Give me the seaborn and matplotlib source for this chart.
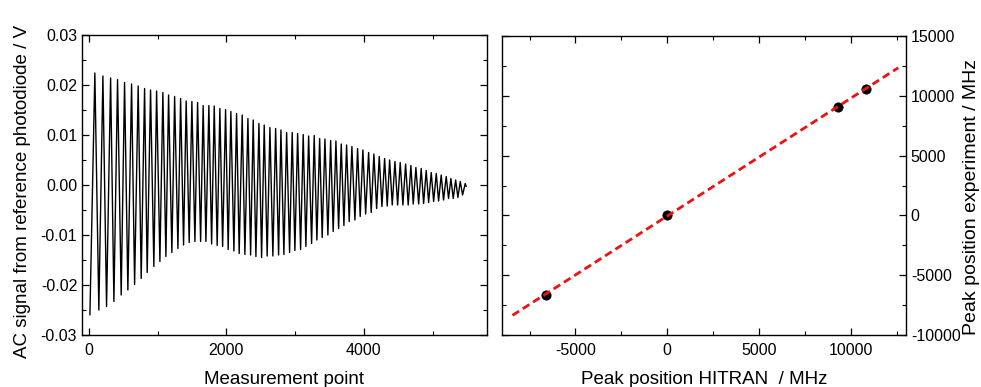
import numpy as np
import pandas as pd
import matplotlib
matplotlib.use("Agg")
import matplotlib.pyplot as plt
import seaborn as sns
from matplotlib.ticker import MultipleLocator, FormatStrFormatter

# ---- Left panel: extrema of the AC signal ----
peak_x = [87, 204, 316, 417, 519, 621, 717, 810, 897, 985, 1076, 1159, 1247, 1334,
          1415, 1498, 1581, 1662, 1745, 1823, 1905, 1988, 2065, 2148, 2230, 2313,
          2390, 2473, 2550, 2633, 2716, 2793, 2876, 2957, 3036, 3117, 3196, 3277,
          3356, 3433, 3516, 3593, 3670, 3748, 3825, 3908, 3985, 4068, 4145, 4223,
          4301, 4374, 4451, 4528, 4606, 4683, 4756, 4833, 4906, 4979, 5052, 5124,
          5197, 5265, 5334, 5401, 5473]
peak_y = [0.0224, 0.0218, 0.0214, 0.0211, 0.0205, 0.0202, 0.0198, 0.0193, 0.0190,
          0.0188, 0.0185, 0.0180, 0.0177, 0.0173, 0.0168, 0.0167, 0.0165, 0.0159,
          0.0159, 0.0158, 0.0153, 0.0151, 0.0147, 0.0143, 0.0140, 0.0133, 0.0130,
          0.0123, 0.0120, 0.0115, 0.0113, 0.0110, 0.0105, 0.0105, 0.0103, 0.0101,
          0.0098, 0.0099, 0.0093, 0.0092, 0.0089, 0.0088, 0.0082, 0.0080, 0.0077,
          0.0073, 0.0070, 0.0065, 0.0062, 0.0057, 0.0053, 0.0050, 0.0047, 0.0045,
          0.0042, 0.0039, 0.0035, 0.0033, 0.0029, 0.0025, 0.0023, 0.0020, 0.0017,
          0.0013, 0.0010, 0.0007, 0.0003]
trough_x = [15, 145, 257, 364, 470, 567, 665, 761, 848, 945, 1033, 1120, 1207, 1295,
            1377, 1459, 1542, 1625, 1702, 1785, 1866, 1945, 2026, 2109, 2186, 2269,
            2352, 2429, 2512, 2593, 2676, 2759, 2836, 2919, 2996, 3079, 3156, 3239,
            3316, 3393, 3476, 3553, 3632, 3709, 3786, 3869, 3946, 4025, 4106, 4185,
            4262, 4339, 4412, 4490, 4567, 4644, 4717, 4796, 4868, 4941, 5014, 5086,
            5158, 5231, 5299, 5367, 5435, 5488]
trough_y = [-0.0260, -0.0250, -0.0243, -0.0233, -0.0220, -0.0210, -0.0199, -0.0187,
            -0.0175, -0.0163, -0.0153, -0.0143, -0.0135, -0.0127, -0.0120, -0.0115,
            -0.0113, -0.0113, -0.0113, -0.0118, -0.0121, -0.0123, -0.0129, -0.0132,
            -0.0137, -0.0139, -0.0140, -0.0143, -0.0145, -0.0142, -0.0142, -0.0140,
            -0.0139, -0.0135, -0.0131, -0.0129, -0.0123, -0.0117, -0.0110, -0.0105,
            -0.0100, -0.0093, -0.0087, -0.0081, -0.0073, -0.0070, -0.0063, -0.0058,
            -0.0055, -0.0047, -0.0043, -0.0042, -0.0040, -0.0040, -0.0040, -0.0040,
            -0.0038, -0.0038, -0.0037, -0.0035, -0.0033, -0.0032, -0.0030, -0.0027,
            -0.0027, -0.0025, -0.0020, -0.0003]

# ---- Right panel: peak positions ----
hitran = [-6630, 0, 9270, 10797]
experiment = [-6616, 0, 9104, 10553]
fit_range = [-8430, 12580]

sns.set_theme(style="ticks")
plt.rcParams["font.family"] = ["Liberation Sans", "DejaVu Sans"]
plt.rcParams["axes.linewidth"] = 1.0
plt.rcParams["axes.unicode_minus"] = False
plt.rcParams["text.color"] = "black"
plt.rcParams["axes.labelcolor"] = "black"
plt.rcParams["xtick.color"] = "black"
plt.rcParams["ytick.color"] = "black"

LABEL_FS = 13.5
TICK_FS = 11.5

fig = plt.figure(figsize=(9.81, 3.87), dpi=100)
ax1 = fig.add_axes([82 / 981, 1 - 335 / 387, 405 / 981, 300 / 387])
ax2 = fig.add_axes([502 / 981, 1 - 335 / 387, 404 / 981, 299 / 387])

sig = pd.concat([
    pd.DataFrame({"x": peak_x, "y": peak_y}),
    pd.DataFrame({"x": trough_x, "y": trough_y}),
]).sort_values("x").reset_index(drop=True)

sns.lineplot(data=sig, x="x", y="y", ax=ax1, color="black", lw=1.0,
             sort=False, estimator=None)
ax1.set_xlim(-100, 5790)
ax1.set_ylim(-0.03, 0.03)
ax1.xaxis.set_major_locator(MultipleLocator(2000))
ax1.xaxis.set_minor_locator(MultipleLocator(1000))
ax1.yaxis.set_major_locator(MultipleLocator(0.01))
ax1.yaxis.set_minor_locator(MultipleLocator(0.005))
ax1.yaxis.set_major_formatter(FormatStrFormatter("%.2f"))
ax1.set_xlabel("Measurement point", fontsize=LABEL_FS, labelpad=9, color="black")
ax1.set_ylabel("AC signal from reference photodiode / V", fontsize=LABEL_FS,
               labelpad=7, color="black")
ax1.yaxis.label.set_y(0.477)

df = pd.DataFrame({"h": hitran, "e": experiment})
slope, intercept = np.polyfit(hitran, experiment, 1)
fit = pd.DataFrame({"h": fit_range})
fit["e"] = slope * fit["h"] + intercept

sns.scatterplot(data=df, x="h", y="e", ax=ax2, color="black", s=45,
                edgecolor="black", linewidth=0.5, zorder=3)
sns.lineplot(data=fit, x="h", y="e", ax=ax2, color="#ee1111", lw=2.0,
             dashes=False, zorder=4).lines[-1].set_dashes([2.8, 1.6])
ax2.set_xlim(-9000, 13000)
ax2.set_ylim(-10000, 15000)
ax2.xaxis.set_major_locator(MultipleLocator(5000))
ax2.xaxis.set_minor_locator(MultipleLocator(2500))
ax2.yaxis.set_major_locator(MultipleLocator(5000))
ax2.yaxis.set_minor_locator(MultipleLocator(2500))
ax2.yaxis.tick_right()
ax2.yaxis.set_label_position("right")
ax2.set_xlabel("Peak position HITRAN  / MHz", fontsize=LABEL_FS, labelpad=9,
               color="black")
ax2.set_ylabel("Peak position experiment / MHz", fontsize=14, labelpad=2,
               color="black")
ax2.yaxis.label.set_y(0.463)

for ax in (ax1, ax2):
    for s in ax.spines.values():
        s.set_visible(True)
        s.set_color("black")
        s.set_linewidth(1.0)
    ax.tick_params(which="both", direction="in", top=True, bottom=True,
                   left=True, right=True, colors="black", labelsize=TICK_FS)
    ax.tick_params(which="major", length=5, width=0.9)
    ax.tick_params(which="minor", length=3, width=0.8)
    ax.tick_params(axis="x", which="major", pad=6)
ax2.tick_params(which="both", labelleft=False, labelright=True)

fig.savefig("out.png", dpi=100)
